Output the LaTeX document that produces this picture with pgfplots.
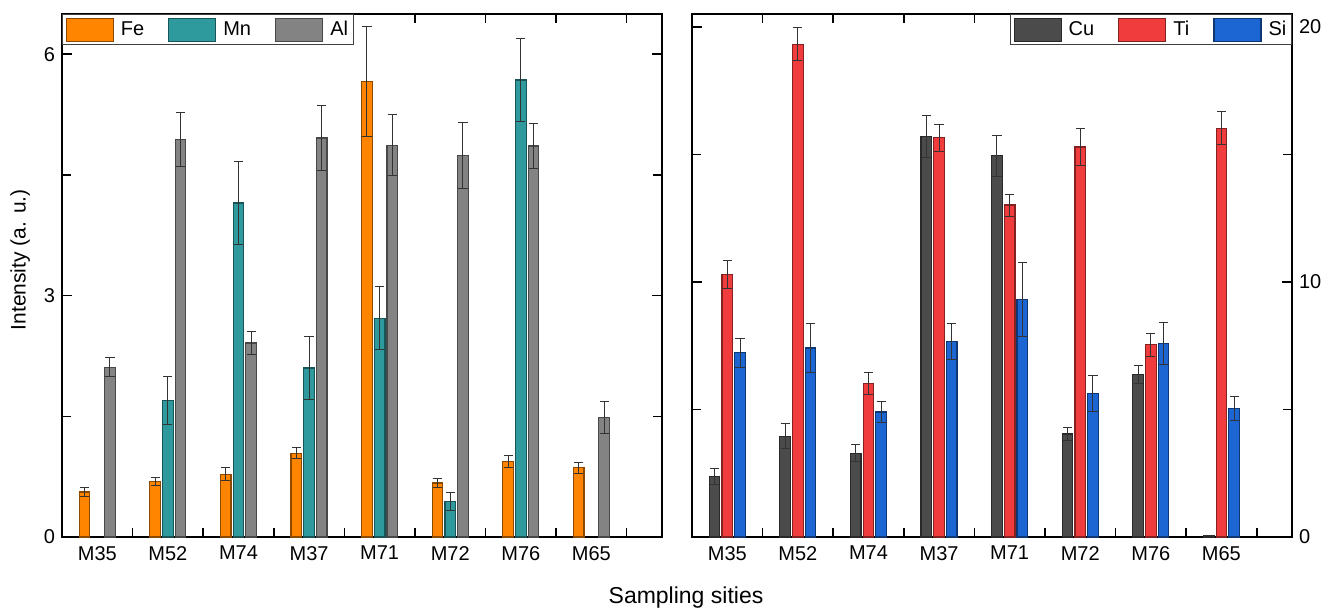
\documentclass[border=0pt]{standalone}
\usepackage{fontspec}
\setmainfont{Liberation Sans}
\usepackage{pgfplots}
\usepackage{pgfplotstable}
\pgfplotsset{compat=1.18}
\definecolor{cFe}{HTML}{FF8400}
\definecolor{cMn}{HTML}{2E9A9E}
\definecolor{cAl}{HTML}{838383}
\definecolor{cCu}{HTML}{4B4B4B}
\definecolor{cTi}{HTML}{F03C3C}
\definecolor{cSi}{HTML}{1B66D2}

% x = site index (M35 M52 M74 M37 M71 M72 M76 M65)
\pgfplotstableread{
x y err
0 0.56 0.06
1 0.69 0.05
2 0.78 0.08
3 1.04 0.07
4 5.66 0.68
5 0.67 0.06
6 0.94 0.07
7 0.86 0.07
}\tFe
\pgfplotstableread{
x y err
1 1.70 0.30
2 4.15 0.52
3 2.10 0.39
4 2.72 0.39
5 0.44 0.11
6 5.68 0.52
}\tMn
\pgfplotstableread{
x y err
0 2.11 0.12
1 4.94 0.33
2 2.41 0.145
3 4.96 0.40
4 4.87 0.38
5 4.74 0.41
6 4.86 0.28
7 1.49 0.20
}\tAl
\pgfplotstableread{
x y err
0 2.38 0.31
1 3.95 0.48
2 3.28 0.34
3 15.70 0.84
4 14.94 0.80
5 4.04 0.27
6 6.37 0.35
7 0.06 0.0
}\tCu
\pgfplotstableread{
x y err
0 10.30 0.55
1 19.31 0.65
2 6.01 0.42
3 15.65 0.52
4 13.01 0.43
5 15.29 0.72
6 7.53 0.46
7 16.02 0.65
}\tTi
\pgfplotstableread{
x y err
0 7.22 0.57
1 7.41 0.97
2 4.90 0.42
3 7.66 0.69
4 9.30 1.45
5 5.63 0.71
6 7.58 0.81
7 5.03 0.46
}\tSi

\pgfplotsset{
  panel/.style={
    scale only axis, width=300pt, height=261.5pt,
    xmin=-0.5, xmax=8,
    axis line style={black, line width=1pt},
    xtick={0,...,7},
    xticklabels={M35,M52,M74,M37,M71,M72,M76,M65},
    major x tick style={draw=none},
    minor xtick={0.5,1.5,...,7.5},
    xtick pos=both, ytick pos=both,
    tick align=inside,
    major tick length=5pt, minor tick length=4.5pt,
    tick style={black, line width=0.8pt},
    /pgf/number format/assume math mode=true,
    ticklabel style={font=\fontsize{10}{12}\selectfont},
    xticklabel style={yshift=-1pt},
    legend columns=-1,
    legend style={font=\fontsize{10}{12}\selectfont, draw=black!75,
      line width=0.6pt, inner xsep=1.5pt, inner ysep=1.5pt,
      nodes={inner sep=1pt},
      /tikz/every odd column/.append style={column sep=2.5pt},
      /tikz/every even column/.append style={column sep=11pt}},
    legend image code/.code={\draw[#1] (0pt,-5.75pt) rectangle (23.5pt,5.75pt);},
  },
  bars/.style={ybar, bar width=0.15, bar shift=0pt, fill=#1,
    draw=#1!55!black, line width=0.6pt,
    error bars/y dir=both, error bars/y explicit,
    error bars/error bar style={line width=0.5pt, black!80},
    error bars/error mark options={rotate=90, mark size=2.3pt,
      line width=0.5pt, black!80}},
}
\begin{document}
\begin{tikzpicture}
\path[use as bounding box] (0,0) rectangle (665pt,-305pt);

\begin{axis}[panel, at={(31pt,-268.5pt)}, anchor=south west,
    ymin=0, ymax=6.5, ytick={0,3,6}, minor ytick={1.5,4.5},
    yticklabel pos=left,
    ylabel={Intensity (a. u.)},
    ylabel style={font=\fontsize{10.5}{12}\selectfont, at={(ticklabel cs:0.53)}},
    legend style={at={(0,1)}, anchor=north west}]
  \addplot[bars=cFe] table[x expr=\thisrow{x}-0.18, y=y, y error=err] {\tFe};
  \addplot[bars=cMn] table[x expr=\thisrow{x}, y=y, y error=err] {\tMn};
  \addplot[bars=cAl] table[x expr=\thisrow{x}+0.18, y=y, y error=err] {\tAl};
  \legend{Fe,Mn,Al}
\end{axis}

\begin{axis}[panel, at={(346pt,-268.5pt)}, anchor=south west,
    ymin=0, ymax=20.5, ytick={0,10,20}, minor ytick={5,15},
    yticklabel pos=right,
    legend style={at={(1,1)}, anchor=north east}]
  \addplot[bars=cCu] table[x expr=\thisrow{x}-0.18, y=y, y error=err] {\tCu};
  \addplot[bars=cTi] table[x expr=\thisrow{x}, y=y, y error=err] {\tTi};
  \addplot[bars=cSi] table[x expr=\thisrow{x}+0.18, y=y, y error=err] {\tSi};
  \legend{Cu,Ti,Si}
\end{axis}

\node[font=\fontsize{11.5}{13}\selectfont, anchor=base] at (343pt,-301.5pt) {Sampling sities};
\end{tikzpicture}
\end{document}
